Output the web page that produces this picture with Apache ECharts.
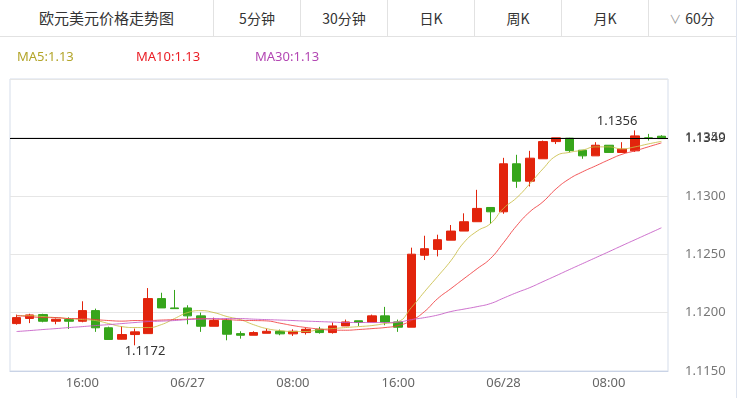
<!DOCTYPE html>
<html>
<head>
<meta charset="utf-8">
<script src="https://cdn.jsdelivr.net/npm/echarts@6/dist/echarts.min.js"></script>
<style>
  html, body { margin: 0; padding: 0; background: #fff; }
  #wrap { position: relative; width: 736px; height: 398px; border-right: 1px solid #dde3ee; }
  #main { position: absolute; left: 0; top: 0; width: 736px; height: 398px; }
  #head {
    position: absolute; left: 0; top: 0; width: 736px; height: 36px;
    border-bottom: 1px solid #e2e2e2; display: flex; z-index: 2; background: #fff;
    font-family: "Noto Sans CJK SC", sans-serif; color: #333;
  }
  #head div { line-height: 36px; text-align: center; font-size: 14px; }
  #head .title { width: 213px; font-size: 15px; }
  #head .tab { width: 86px; border-left: 1px solid #e2e2e2; }
  #head .arrow { color: #999; font-size: 12px; margin-right: 4px; }
</style>
</head>
<body>
<div id="wrap">
  <div id="main"></div>
  <div id="head">
    <div class="title">欧元美元价格走势图</div>
    <div class="tab">5分钟</div>
    <div class="tab">30分钟</div>
    <div class="tab">日K</div>
    <div class="tab">周K</div>
    <div class="tab">月K</div>
    <div class="tab"><span class="arrow">∨</span>60分</div>
  </div>
</div>
<script>
// 时间轴 (小时K)
var times = [
  '06/26 11:00','06/26 12:00','06/26 13:00','06/26 14:00','06/26 15:00','06/26 16:00','06/26 17:00',
  '06/26 18:00','06/26 19:00','06/26 20:00','06/26 21:00','06/26 22:00','06/26 23:00',
  '06/27 00:00','06/27 01:00','06/27 02:00','06/27 03:00','06/27 04:00','06/27 05:00','06/27 06:00',
  '06/27 07:00','06/27 08:00','06/27 09:00','06/27 10:00','06/27 11:00','06/27 12:00','06/27 13:00',
  '06/27 14:00','06/27 15:00','06/27 16:00','06/27 17:00','06/27 18:00','06/27 19:00','06/27 20:00',
  '06/27 21:00','06/27 22:00','06/27 23:00',
  '06/28 00:00','06/28 01:00','06/28 02:00','06/28 03:00','06/28 04:00','06/28 05:00','06/28 06:00',
  '06/28 07:00','06/28 08:00','06/28 09:00','06/28 10:00','06/28 11:00','06/28 12:00'
];

var opens = [1.11906,1.11950,1.11983,1.11926,1.11940,1.11926,1.12017,1.11870,1.11772,1.11812,
  1.11820,1.12120,1.12040,1.12040,1.11972,1.11883,1.11932,1.11820,1.11806,1.11823,
  1.11840,1.11818,1.11829,1.11857,1.11829,1.11886,1.11930,1.11920,1.11972,1.11920,
  1.11875,1.12491,1.12541,1.12620,1.12698,1.12778,1.12900,1.12863,1.13274,1.13125,
  1.13317,1.13464,1.13493,1.13390,1.13342,1.13433,1.13371,1.13385,1.13496,1.13510];
var closes = [1.11957,1.11980,1.11926,1.11943,1.11926,1.12017,1.11870,1.11770,1.11812,1.11835,
  1.12120,1.12040,1.12034,1.11972,1.11883,1.11932,1.11815,1.11806,1.11829,1.11840,
  1.11818,1.11840,1.11857,1.11829,1.11886,1.11920,1.11917,1.11972,1.11920,1.11875,
  1.12500,1.12547,1.12624,1.12698,1.12778,1.12892,1.12863,1.13274,1.13125,1.13322,
  1.13464,1.13496,1.13387,1.13342,1.13433,1.13371,1.13399,1.13513,1.13493,1.13490];
var lows = [1.11897,1.11910,1.11917,1.11900,1.11860,1.11917,1.11835,1.11770,1.11770,1.11720,
  1.11820,1.12040,1.12034,1.11900,1.11835,1.11883,1.11763,1.11777,1.11806,1.11823,
  1.11806,1.11800,1.11812,1.11820,1.11820,1.11886,1.11886,1.11920,1.11892,1.11835,
  1.11875,1.12450,1.12481,1.12620,1.12698,1.12778,1.12760,1.12846,1.13068,1.13080,
  1.13317,1.13443,1.13372,1.13317,1.13342,1.13371,1.13371,1.13376,1.13473,1.13490];
var highs = [1.11983,1.11990,1.11990,1.11950,1.11960,1.12097,1.12034,1.11880,1.11883,1.11863,
  1.12210,1.12170,1.12194,1.12063,1.12000,1.11957,1.11949,1.11840,1.11840,1.11863,
  1.11855,1.11857,1.11869,1.11878,1.11915,1.11940,1.11930,1.11983,1.12049,1.11940,
  1.12556,1.12658,1.12667,1.12750,1.12850,1.13051,1.12900,1.13325,1.13351,1.13385,
  1.13473,1.13496,1.13496,1.13390,1.13459,1.13433,1.13459,1.13560,1.13530,1.13519];

// 均线
var ma5 = [1.11974,1.11974,1.11966,1.11957,1.11949,1.11940,1.11932,1.11906,1.11880,1.11872,
  1.11872,1.11897,1.11949,1.12000,1.12017,1.12000,1.11966,1.11940,1.11897,1.11863,
  1.11846,1.11838,1.11838,1.11855,1.11863,1.11872,1.11880,1.11889,1.11906,1.11923,
  1.12043,1.12179,1.12310,1.12444,1.12601,1.12698,1.12761,1.12893,1.12983,1.13103,
  1.13231,1.13342,1.13372,1.13391,1.13419,1.13419,1.13402,1.13419,1.13444,1.13466];
var ma10 = [1.11974,1.11966,1.11957,1.11957,1.11949,1.11949,1.11940,1.11932,1.11927,1.11932,
  1.11932,1.11936,1.11940,1.11944,1.11949,1.11944,1.11940,1.11934,1.11932,1.11929,
  1.11910,1.11889,1.11872,1.11859,1.11850,1.11849,1.11855,1.11863,1.11872,1.11889,
  1.11932,1.12009,1.12120,1.12205,1.12291,1.12376,1.12462,1.12598,1.12744,1.12863,
  1.12949,1.13060,1.13145,1.13205,1.13256,1.13308,1.13355,1.13385,1.13419,1.13453];
var ma30 = [1.11838,1.11846,1.11855,1.11863,1.11872,1.11880,1.11889,1.11897,1.11906,1.11915,
  1.11923,1.11927,1.11932,1.11940,1.11944,1.11949,1.11949,1.11949,1.11944,1.11940,
  1.11936,1.11932,1.11927,1.11923,1.11919,1.11915,1.11915,1.11915,1.11915,1.11919,
  1.11940,1.11957,1.11979,1.12009,1.12030,1.12051,1.12077,1.12124,1.12171,1.12214,
  1.12265,1.12316,1.12368,1.12419,1.12470,1.12521,1.12573,1.12624,1.12675,1.12726];

var yTicks = { min: 1.115, max: 1.14, step: 0.005 };

var upColor = '#e2240c';
var downColor = '#36a51b';
var maColors = { MA5: '#c9bd45', MA10: '#f0393c', MA30: '#c458c4' };
var legendColors = { MA5: '#b3a52a', MA10: '#ea1d25', MA30: '#b347b3' };

var kData = opens.map(function (o, i) {
  return [o, closes[i], lows[i], highs[i]];
});
var lastClose = closes[closes.length - 1];

function showTick(index) { return index % 8 === 5; }

function maLegend(name, arr, left) {
  return {
    left: left, top: 46,
    icon: 'rect', itemWidth: 0, itemHeight: 0,
    data: [{ name: name, textStyle: { color: legendColors[name] } }],
    formatter: function (n) { return n + ':' + arr[arr.length - 1].toFixed(2); },
    textStyle: { fontSize: 13, fontFamily: 'Noto Sans' },
    selectedMode: false
  };
}

function maSeries(name, arr) {
  return {
    name: name, type: 'line', data: arr, smooth: true, showSymbol: false,
    lineStyle: { width: 1, color: maColors[name], opacity: 0.85 },
    itemStyle: { color: maColors[name] },
    z: 3
  };
}

var chart = echarts.init(document.getElementById('main'));
chart.setOption({
  animation: false,
  textStyle: { fontFamily: 'Noto Sans' },
  legend: [
    maLegend('MA5', ma5, 7),
    maLegend('MA10', ma10, 126),
    maLegend('MA30', ma30, 245)
  ],
  grid: {
    left: 10, right: 68, top: 79, bottom: 27,
    show: true, borderColor: '#d5ddea', borderWidth: 1
  },
  xAxis: {
    type: 'category',
    data: times,
    boundaryGap: true,
    axisLine: { lineStyle: { color: '#c9d3e6' } },
    axisTick: {
      inside: true, length: 10, alignWithLabel: true,
      interval: showTick, lineStyle: { color: '#d5ddea' }
    },
    axisLabel: {
      interval: showTick, color: '#666', fontSize: 13, margin: 6,
      formatter: function (v) {
        var parts = v.split(' ');
        return parts[1] === '00:00' ? parts[0] : parts[1];
      }
    },
    splitLine: { show: false }
  },
  yAxis: {
    type: 'value',
    position: 'right',
    min: yTicks.min, max: yTicks.max, interval: yTicks.step,
    axisLine: { show: false },
    axisTick: { show: false },
    axisLabel: {
      color: '#777', fontSize: 13, margin: 17, showMaxLabel: false,
      formatter: function (v) { return v.toFixed(4); }
    },
    splitLine: { lineStyle: { color: '#e6e6e6' } }
  },
  series: [
    {
      name: 'K', type: 'candlestick', data: kData, barWidth: 9,
      itemStyle: {
        color: upColor, color0: downColor,
        borderColor: upColor, borderColor0: downColor, borderWidth: 1
      },
      markPoint: {
        symbol: 'circle', symbolSize: 0,
        label: {
          show: true, position: 'inside', color: '#333', fontSize: 13,
          formatter: function (p) { return p.value.toFixed(4); }
        },
        data: [
          { type: 'max', valueDim: 'highest', label: { offset: [-18, -9] } },
          { type: 'min', valueDim: 'lowest', label: { offset: [10, 6] } }
        ]
      },
      markLine: {
        symbol: 'none', silent: true, precision: 4,
        lineStyle: { color: '#000', width: 1, type: 'solid', opacity: 1 },
        label: {
          position: 'end', distance: 17, color: '#333', fontSize: 13,
          formatter: function () { return lastClose.toFixed(4); }
        },
        data: [{ yAxis: lastClose }]
      },
      z: 2
    },
    maSeries('MA5', ma5),
    maSeries('MA10', ma10),
    maSeries('MA30', ma30)
  ]
});
</script>
</body>
</html>
